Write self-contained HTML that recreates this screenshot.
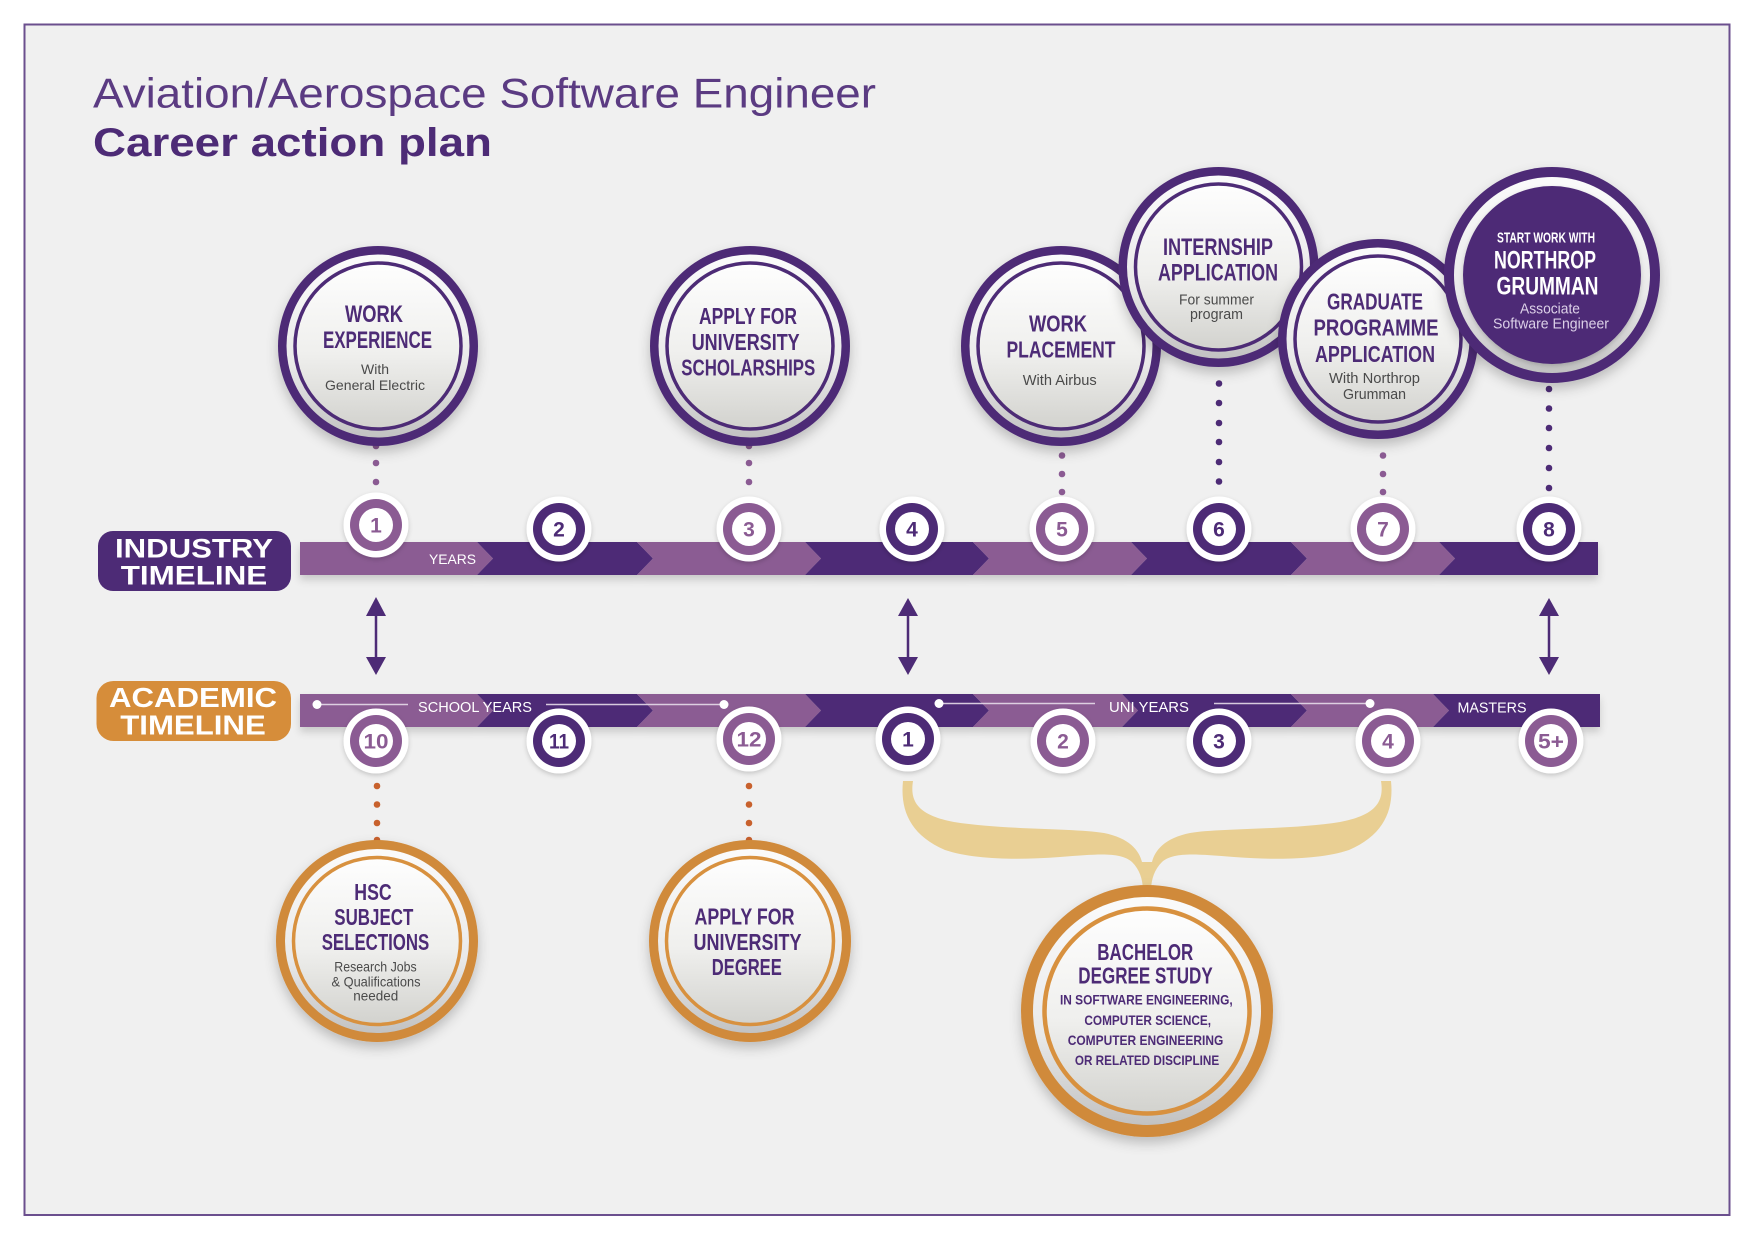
<!DOCTYPE html>
<html><head><meta charset="utf-8">
<style>
html,body{margin:0;padding:0;background:#ffffff;}
svg{display:block;}
.c{font-family:"Liberation Sans Narrow","Liberation Sans",sans-serif;font-weight:bold;fill:#4d2b76;text-anchor:middle;}
.cw{font-family:"Liberation Sans Narrow","Liberation Sans",sans-serif;font-weight:bold;fill:#ffffff;text-anchor:middle;}
.s{font-family:"Liberation Sans",sans-serif;fill:#4a4a4a;text-anchor:middle;}
.n{font-family:"Liberation Sans",sans-serif;font-weight:bold;text-anchor:middle;font-size:21px;}
.bt{font-family:"Liberation Sans",sans-serif;fill:#ffffff;text-anchor:middle;}
.lb{font-family:"Liberation Sans",sans-serif;font-weight:bold;fill:#ffffff;text-anchor:middle;}
</style></head>
<body>
<svg width="1753" height="1240" viewBox="0 0 1753 1240" xmlns="http://www.w3.org/2000/svg">
<defs>
  <linearGradient id="gin" x1="0" y1="0" x2="0" y2="1">
    <stop offset="0" stop-color="#fefefe"/>
    <stop offset="0.55" stop-color="#efefed"/>
    <stop offset="1" stop-color="#d2d2ce"/>
  </linearGradient>
  <linearGradient id="ggap" x1="0" y1="0" x2="0" y2="1">
    <stop offset="0" stop-color="#fbfbfb"/>
    <stop offset="0.6" stop-color="#e9e9e9"/>
    <stop offset="1" stop-color="#c2c2c2"/>
  </linearGradient>
  <filter id="sh" x="-25%" y="-25%" width="150%" height="160%">
    <feDropShadow dx="0" dy="6" stdDeviation="6" flood-color="#000" flood-opacity="0.22"/>
  </filter>
  <filter id="shs" x="-30%" y="-30%" width="160%" height="170%">
    <feDropShadow dx="0" dy="2" stdDeviation="2.5" flood-color="#000" flood-opacity="0.18"/>
  </filter>
  <filter id="shb" x="-5%" y="-40%" width="110%" height="200%">
    <feDropShadow dx="0" dy="5" stdDeviation="4" flood-color="#000" flood-opacity="0.16"/>
  </filter>
</defs>

<!-- frame -->
<rect x="0" y="0" width="1753" height="1240" fill="#ffffff"/>
<rect x="24.5" y="24.5" width="1705" height="1190.5" fill="#f0f0f0" stroke="#6b4f8e" stroke-width="2"/>

<!-- title -->
<text x="93" y="107.5" font-family="Liberation Sans, sans-serif" font-size="42" fill="#5b3b82" textLength="783" lengthAdjust="spacingAndGlyphs">Aviation/Aerospace Software Engineer</text>
<text x="93" y="156" font-family="Liberation Sans, sans-serif" font-size="40" font-weight="bold" fill="#4d2b76" textLength="399" lengthAdjust="spacingAndGlyphs">Career action plan</text>

<!-- industry bar -->
<g filter="url(#shb)">
  <polygon points="300,542 477,542 493,558.5 477,575 300,575" fill="#8b5b93"/>
  <polygon points="477,542 637,542 653,558.5 637,575 477,575 493,558.5" fill="#4d2b76"/>
  <polygon points="637,542 805,542 821,558.5 805,575 637,575 653,558.5" fill="#8b5b93"/>
  <polygon points="805,542 973,542 989,558.5 973,575 805,575 821,558.5" fill="#4d2b76"/>
  <polygon points="973,542 1131,542 1147,558.5 1131,575 973,575 989,558.5" fill="#8b5b93"/>
  <polygon points="1131,542 1291,542 1307,558.5 1291,575 1131,575 1147,558.5" fill="#4d2b76"/>
  <polygon points="1291,542 1439,542 1455,558.5 1439,575 1291,575 1307,558.5" fill="#8b5b93"/>
  <polygon points="1439,542 1598,542 1598,575 1439,575 1455,558.5" fill="#4d2b76"/>
</g>
<text class="bt" x="452.5" y="564" font-size="14" textLength="47" lengthAdjust="spacingAndGlyphs">YEARS</text>

<!-- academic bar -->
<g filter="url(#shb)">
  <polygon points="300,694 477,694 493,710.5 477,727 300,727" fill="#8b5b93"/>
  <polygon points="477,694 637,694 653,710.5 637,727 477,727 493,710.5" fill="#4d2b76"/>
  <polygon points="637,694 805,694 821,710.5 805,727 637,727 653,710.5" fill="#8b5b93"/>
  <polygon points="805,694 973,694 989,710.5 973,727 805,727 821,710.5" fill="#4d2b76"/>
  <polygon points="973,694 1122,694 1138,710.5 1122,727 973,727 989,710.5" fill="#8b5b93"/>
  <polygon points="1122,694 1291,694 1307,710.5 1291,727 1122,727 1138,710.5" fill="#4d2b76"/>
  <polygon points="1291,694 1433,694 1449,710.5 1433,727 1291,727 1307,710.5" fill="#8b5b93"/>
  <polygon points="1433,694 1600,694 1600,727 1433,727 1449,710.5" fill="#4d2b76"/>
</g>
<g stroke="#e6dcea" stroke-width="1.5" opacity="0.9">
  <line x1="317" y1="704.5" x2="408" y2="704.5"/>
  <line x1="546" y1="704.5" x2="724" y2="704.5"/>
  <line x1="939" y1="703.5" x2="1095" y2="703.5"/>
  <line x1="1214" y1="703.5" x2="1370" y2="703.5"/>
</g>
<g fill="#ffffff">
  <circle cx="317" cy="704.5" r="4.5"/>
  <circle cx="724" cy="704.5" r="4.5"/>
  <circle cx="939" cy="703.5" r="4.5"/>
  <circle cx="1370" cy="703.5" r="4.5"/>
</g>
<text class="bt" x="475" y="712" font-size="15" textLength="114" lengthAdjust="spacingAndGlyphs">SCHOOL YEARS</text>
<text class="bt" x="1149" y="712" font-size="15" textLength="80" lengthAdjust="spacingAndGlyphs">UNI YEARS</text>
<text class="bt" x="1492" y="712.5" font-size="15" textLength="69" lengthAdjust="spacingAndGlyphs">MASTERS</text>

<!-- timeline labels -->
<rect x="98" y="531" width="193" height="60" rx="15" fill="#4d2b76"/>
<text class="lb" x="194" y="557.5" font-size="27" textLength="158" lengthAdjust="spacingAndGlyphs">INDUSTRY</text>
<text class="lb" x="194" y="584.4" font-size="27" textLength="146.5" lengthAdjust="spacingAndGlyphs">TIMELINE</text>
<rect x="96.5" y="681" width="194.5" height="60" rx="17" fill="#d68d3a"/>
<text class="lb" x="193" y="707" font-size="28" textLength="168" lengthAdjust="spacingAndGlyphs">ACADEMIC</text>
<text class="lb" x="193" y="734.5" font-size="28" textLength="145.5" lengthAdjust="spacingAndGlyphs">TIMELINE</text>

<!-- dotted connectors -->
<g fill="#8b5b93">
  <circle cx="376" cy="446" r="3.3"/><circle cx="376" cy="463" r="3.3"/><circle cx="376" cy="482" r="3.3"/>
  <circle cx="749" cy="446" r="3.3"/><circle cx="749" cy="463" r="3.3"/><circle cx="749" cy="482" r="3.3"/>
  <circle cx="1062" cy="455.5" r="3.3"/><circle cx="1062" cy="474" r="3.3"/><circle cx="1062" cy="492" r="3.3"/>
  <circle cx="1383" cy="455.5" r="3.3"/><circle cx="1383" cy="474" r="3.3"/><circle cx="1383" cy="492" r="3.3"/>
</g>
<g fill="#4d2b76">
  <circle cx="1219" cy="383.5" r="3.3"/><circle cx="1219" cy="403" r="3.3"/><circle cx="1219" cy="423" r="3.3"/><circle cx="1219" cy="442" r="3.3"/><circle cx="1219" cy="462" r="3.3"/><circle cx="1219" cy="481.5" r="3.3"/>
  <circle cx="1549" cy="389" r="3.3"/><circle cx="1549" cy="408.5" r="3.3"/><circle cx="1549" cy="428" r="3.3"/><circle cx="1549" cy="448" r="3.3"/><circle cx="1549" cy="468" r="3.3"/><circle cx="1549" cy="488" r="3.3"/>
</g>
<g fill="#c8612d">
  <circle cx="377" cy="786" r="3.3"/><circle cx="377" cy="804.5" r="3.3"/><circle cx="377" cy="823" r="3.3"/><circle cx="377" cy="840" r="3.3"/>
  <circle cx="749" cy="786" r="3.3"/><circle cx="749" cy="804.5" r="3.3"/><circle cx="749" cy="823" r="3.3"/><circle cx="749" cy="840" r="3.3"/>
</g>

<!-- arrows -->
<g fill="#4d2b76" stroke="#4d2b76">
  <line x1="376" y1="612" x2="376" y2="660" stroke-width="2.5"/>
  <polygon points="376,597 386,616 366,616" stroke="none"/>
  <polygon points="376,675 386,657 366,657" stroke="none"/>
  <line x1="908" y1="612" x2="908" y2="660" stroke-width="2.5"/>
  <polygon points="908,598 918,616 898,616" stroke="none"/>
  <polygon points="908,675 918,657 898,657" stroke="none"/>
  <line x1="1549" y1="612" x2="1549" y2="660" stroke-width="2.5"/>
  <polygon points="1549,598 1559,616 1539,616" stroke="none"/>
  <polygon points="1549,675 1559,657 1539,657" stroke="none"/>
</g>

<!-- brace -->
<path d="M 903 781 C 900 810, 910 835, 945 850 C 975 860, 1020 860, 1060 857 C 1100 854, 1120 852, 1132 862 C 1140 870, 1143 880, 1143 892 L 1151 892 C 1151 880, 1154 870, 1162 862 C 1174 852, 1194 854, 1234 857 C 1274 860, 1319 860, 1349 850 C 1384 835, 1394 810, 1391 781 L 1381 781 C 1384 800, 1378 815, 1340 822 C 1290 830, 1220 828, 1190 833 C 1165 838, 1155 850, 1152 862 L 1142 862 C 1139 850, 1129 838, 1104 833 C 1074 828, 1004 830, 954 822 C 916 815, 910 800, 913 781 Z" fill="#e9cf93"/>

<!-- ===== Top purple circles ===== -->
<!-- Work experience -->
<g filter="url(#sh)"><circle cx="378" cy="346" r="100" fill="#4d2b76"/></g>
<circle cx="378" cy="346" r="91.5" fill="url(#ggap)"/>
<circle cx="378" cy="346" r="83" fill="url(#gin)" stroke="#4d2b76" stroke-width="3.5"/>
<text class="c" x="374" y="322" font-size="24" textLength="58" lengthAdjust="spacingAndGlyphs">WORK</text>
<text class="c" x="377.5" y="348" font-size="24" textLength="109" lengthAdjust="spacingAndGlyphs">EXPERIENCE</text>
<text class="s" x="375" y="374" font-size="14" textLength="28" lengthAdjust="spacingAndGlyphs">With</text>
<text class="s" x="375" y="390" font-size="14" textLength="100" lengthAdjust="spacingAndGlyphs">General Electric</text>

<!-- Scholarships -->
<g filter="url(#sh)"><circle cx="750" cy="346" r="100" fill="#4d2b76"/></g>
<circle cx="750" cy="346" r="91.5" fill="url(#ggap)"/>
<circle cx="750" cy="346" r="83" fill="url(#gin)" stroke="#4d2b76" stroke-width="3.5"/>
<text class="c" x="748" y="324" font-size="23" textLength="98" lengthAdjust="spacingAndGlyphs">APPLY FOR</text>
<text class="c" x="745.7" y="350" font-size="23" textLength="108" lengthAdjust="spacingAndGlyphs">UNIVERSITY</text>
<text class="c" x="748.3" y="375.6" font-size="23" textLength="134" lengthAdjust="spacingAndGlyphs">SCHOLARSHIPS</text>

<!-- Work placement -->
<g filter="url(#sh)"><circle cx="1061" cy="346" r="100" fill="#4d2b76"/></g>
<circle cx="1061" cy="346" r="91.5" fill="url(#ggap)"/>
<circle cx="1061" cy="346" r="83" fill="url(#gin)" stroke="#4d2b76" stroke-width="3.5"/>
<text class="c" x="1058" y="331.7" font-size="23" textLength="58" lengthAdjust="spacingAndGlyphs">WORK</text>
<text class="c" x="1061" y="357.7" font-size="23" textLength="109" lengthAdjust="spacingAndGlyphs">PLACEMENT</text>
<text class="s" x="1059.7" y="385" font-size="15" textLength="74" lengthAdjust="spacingAndGlyphs">With Airbus</text>

<!-- Internship -->
<g filter="url(#sh)"><circle cx="1218.5" cy="267" r="100" fill="#4d2b76"/></g>
<circle cx="1218.5" cy="267" r="91.5" fill="url(#ggap)"/>
<circle cx="1218.5" cy="267" r="83" fill="url(#gin)" stroke="#4d2b76" stroke-width="3.5"/>
<text class="c" x="1218" y="255" font-size="24" textLength="110" lengthAdjust="spacingAndGlyphs">INTERNSHIP</text>
<text class="c" x="1218" y="280.7" font-size="24" textLength="120" lengthAdjust="spacingAndGlyphs">APPLICATION</text>
<text class="s" x="1216.5" y="304.3" font-size="14.5" textLength="75" lengthAdjust="spacingAndGlyphs">For summer</text>
<text class="s" x="1216.5" y="319" font-size="14.5" textLength="53" lengthAdjust="spacingAndGlyphs">program</text>

<!-- Graduate -->
<g filter="url(#sh)"><circle cx="1378" cy="339" r="100" fill="#4d2b76"/></g>
<circle cx="1378" cy="339" r="91.5" fill="url(#ggap)"/>
<circle cx="1378" cy="339" r="83" fill="url(#gin)" stroke="#4d2b76" stroke-width="3.5"/>
<text class="c" x="1375" y="309.3" font-size="23" textLength="96" lengthAdjust="spacingAndGlyphs">GRADUATE</text>
<text class="c" x="1376" y="335.7" font-size="23" textLength="125" lengthAdjust="spacingAndGlyphs">PROGRAMME</text>
<text class="c" x="1375" y="362" font-size="23" textLength="120" lengthAdjust="spacingAndGlyphs">APPLICATION</text>
<text class="s" x="1374.5" y="383" font-size="15" textLength="91" lengthAdjust="spacingAndGlyphs">With Northrop</text>
<text class="s" x="1374.5" y="399" font-size="15" textLength="63" lengthAdjust="spacingAndGlyphs">Grumman</text>

<!-- Northrop -->
<g filter="url(#sh)"><circle cx="1552" cy="275" r="108" fill="#4d2b76"/></g>
<circle cx="1552" cy="275" r="98" fill="url(#ggap)"/>
<g filter="url(#shs)"><circle cx="1552" cy="275" r="89" fill="#4d2b76"/></g>
<text class="cw" x="1546" y="242.3" font-size="15" textLength="98" lengthAdjust="spacingAndGlyphs">START WORK WITH</text>
<text class="cw" x="1545" y="268.3" font-size="25" textLength="102" lengthAdjust="spacingAndGlyphs">NORTHROP</text>
<text class="cw" x="1547.5" y="294.3" font-size="25" textLength="102" lengthAdjust="spacingAndGlyphs">GRUMMAN</text>
<text x="1550" y="313.3" font-family="Liberation Sans, sans-serif" font-size="15" fill="#dcd0e8" text-anchor="middle" textLength="60" lengthAdjust="spacingAndGlyphs">Associate</text>
<text x="1551" y="328.3" font-family="Liberation Sans, sans-serif" font-size="15" fill="#dcd0e8" text-anchor="middle" textLength="116" lengthAdjust="spacingAndGlyphs">Software Engineer</text>

<!-- ===== Bottom orange circles ===== -->
<!-- HSC -->
<g filter="url(#sh)"><circle cx="377" cy="941" r="101" fill="#d08a3b"/></g>
<circle cx="377" cy="941" r="92" fill="url(#ggap)"/>
<circle cx="377" cy="941" r="83.5" fill="url(#gin)" stroke="#d8913f" stroke-width="3.5"/>
<text class="c" x="373" y="900" font-size="23" textLength="37.4" lengthAdjust="spacingAndGlyphs">HSC</text>
<text class="c" x="373.8" y="925" font-size="23" textLength="79" lengthAdjust="spacingAndGlyphs">SUBJECT</text>
<text class="c" x="375.5" y="950" font-size="23" textLength="107.6" lengthAdjust="spacingAndGlyphs">SELECTIONS</text>
<text class="s" x="375.5" y="971.7" font-size="14" textLength="82.4" lengthAdjust="spacingAndGlyphs">Research Jobs</text>
<text class="s" x="376" y="986.7" font-size="14" textLength="89" lengthAdjust="spacingAndGlyphs">&amp; Qualifications</text>
<text class="s" x="375.8" y="1000.7" font-size="14" textLength="45" lengthAdjust="spacingAndGlyphs">needed</text>

<!-- Apply for university degree -->
<g filter="url(#sh)"><circle cx="750" cy="941" r="101" fill="#d08a3b"/></g>
<circle cx="750" cy="941" r="92" fill="url(#ggap)"/>
<circle cx="750" cy="941" r="83.5" fill="url(#gin)" stroke="#d8913f" stroke-width="3.5"/>
<text class="c" x="744.5" y="924.5" font-size="23" textLength="100" lengthAdjust="spacingAndGlyphs">APPLY FOR</text>
<text class="c" x="747.5" y="950" font-size="23" textLength="108" lengthAdjust="spacingAndGlyphs">UNIVERSITY</text>
<text class="c" x="746.8" y="975" font-size="23" textLength="70" lengthAdjust="spacingAndGlyphs">DEGREE</text>

<!-- Bachelor -->
<g filter="url(#sh)"><circle cx="1147" cy="1011" r="126" fill="#d08a3b"/></g>
<circle cx="1147" cy="1011" r="114" fill="url(#ggap)"/>
<circle cx="1147" cy="1011" r="102.5" fill="url(#gin)" stroke="#d8913f" stroke-width="4.5"/>
<text class="c" x="1145.3" y="960" font-size="23" textLength="96" lengthAdjust="spacingAndGlyphs">BACHELOR</text>
<text class="c" x="1145.5" y="983.3" font-size="23" textLength="134.4" lengthAdjust="spacingAndGlyphs">DEGREE STUDY</text>
<text class="c" x="1146.3" y="1004.3" font-size="14" textLength="172.7" lengthAdjust="spacingAndGlyphs">IN SOFTWARE ENGINEERING,</text>
<text class="c" x="1147.7" y="1025" font-size="14" textLength="126.7" lengthAdjust="spacingAndGlyphs">COMPUTER SCIENCE,</text>
<text class="c" x="1145.5" y="1045" font-size="14" textLength="155.6" lengthAdjust="spacingAndGlyphs">COMPUTER ENGINEERING</text>
<text class="c" x="1147" y="1065" font-size="14" textLength="144.3" lengthAdjust="spacingAndGlyphs">OR RELATED DISCIPLINE</text>

<!-- ===== Number circles: industry ===== -->
<g>
  <g filter="url(#shs)"><circle cx="376" cy="525" r="32.5" fill="#fff"/></g><circle cx="376" cy="525" r="26" fill="#8b5b93"/><circle cx="376" cy="525" r="17" fill="#fff"/>
  <text class="n" x="376" y="532.5" fill="#8b5b93">1</text>

  <g filter="url(#shs)"><circle cx="559" cy="529" r="32.5" fill="#fff"/></g><circle cx="559" cy="529" r="26" fill="#4d2b76"/><circle cx="559" cy="529" r="17" fill="#fff"/>
  <text class="n" x="559" y="536.5" fill="#4d2b76">2</text>

  <g filter="url(#shs)"><circle cx="749" cy="529" r="32.5" fill="#fff"/></g><circle cx="749" cy="529" r="26" fill="#8b5b93"/><circle cx="749" cy="529" r="17" fill="#fff"/>
  <text class="n" x="749" y="536.5" fill="#8b5b93">3</text>

  <g filter="url(#shs)"><circle cx="912" cy="529" r="32.5" fill="#fff"/></g><circle cx="912" cy="529" r="26" fill="#4d2b76"/><circle cx="912" cy="529" r="17" fill="#fff"/>
  <text class="n" x="912" y="536.5" fill="#4d2b76">4</text>

  <g filter="url(#shs)"><circle cx="1062" cy="529" r="32.5" fill="#fff"/></g><circle cx="1062" cy="529" r="26" fill="#8b5b93"/><circle cx="1062" cy="529" r="17" fill="#fff"/>
  <text class="n" x="1062" y="536.5" fill="#8b5b93">5</text>

  <g filter="url(#shs)"><circle cx="1219" cy="529" r="32.5" fill="#fff"/></g><circle cx="1219" cy="529" r="26" fill="#4d2b76"/><circle cx="1219" cy="529" r="17" fill="#fff"/>
  <text class="n" x="1219" y="536.5" fill="#4d2b76">6</text>

  <g filter="url(#shs)"><circle cx="1383" cy="529" r="32.5" fill="#fff"/></g><circle cx="1383" cy="529" r="26" fill="#8b5b93"/><circle cx="1383" cy="529" r="17" fill="#fff"/>
  <text class="n" x="1383" y="536.5" fill="#8b5b93">7</text>

  <g filter="url(#shs)"><circle cx="1549" cy="529" r="32.5" fill="#fff"/></g><circle cx="1549" cy="529" r="26" fill="#4d2b76"/><circle cx="1549" cy="529" r="17" fill="#fff"/>
  <text class="n" x="1549" y="536.5" fill="#4d2b76">8</text>
</g>

<!-- ===== Number circles: academic ===== -->
<g>
  <g filter="url(#shs)"><circle cx="376" cy="741" r="32.5" fill="#fff"/></g><circle cx="376" cy="741" r="26" fill="#8b5b93"/><circle cx="376" cy="741" r="17" fill="#fff"/>
  <text class="n" x="376" y="748.5" fill="#8b5b93" textLength="25" lengthAdjust="spacingAndGlyphs">10</text>

  <g filter="url(#shs)"><circle cx="559" cy="741" r="32.5" fill="#fff"/></g><circle cx="559" cy="741" r="26" fill="#4d2b76"/><circle cx="559" cy="741" r="17" fill="#fff"/>
  <text class="n" x="559" y="748.5" fill="#4d2b76" textLength="20" lengthAdjust="spacingAndGlyphs">11</text>

  <g filter="url(#shs)"><circle cx="749" cy="739" r="32.5" fill="#fff"/></g><circle cx="749" cy="739" r="26" fill="#8b5b93"/><circle cx="749" cy="739" r="17" fill="#fff"/>
  <text class="n" x="749" y="746.5" fill="#8b5b93" textLength="25" lengthAdjust="spacingAndGlyphs">12</text>

  <g filter="url(#shs)"><circle cx="908" cy="739" r="32.5" fill="#fff"/></g><circle cx="908" cy="739" r="26" fill="#4d2b76"/><circle cx="908" cy="739" r="17" fill="#fff"/>
  <text class="n" x="908" y="746.5" fill="#4d2b76">1</text>

  <g filter="url(#shs)"><circle cx="1063" cy="741" r="32.5" fill="#fff"/></g><circle cx="1063" cy="741" r="26" fill="#8b5b93"/><circle cx="1063" cy="741" r="17" fill="#fff"/>
  <text class="n" x="1063" y="748.5" fill="#8b5b93">2</text>

  <g filter="url(#shs)"><circle cx="1219" cy="741" r="32.5" fill="#fff"/></g><circle cx="1219" cy="741" r="26" fill="#4d2b76"/><circle cx="1219" cy="741" r="17" fill="#fff"/>
  <text class="n" x="1219" y="748.5" fill="#4d2b76">3</text>

  <g filter="url(#shs)"><circle cx="1388" cy="741" r="32.5" fill="#fff"/></g><circle cx="1388" cy="741" r="26" fill="#8b5b93"/><circle cx="1388" cy="741" r="17" fill="#fff"/>
  <text class="n" x="1388" y="748.5" fill="#8b5b93">4</text>

  <g filter="url(#shs)"><circle cx="1551" cy="741" r="32.5" fill="#fff"/></g><circle cx="1551" cy="741" r="26" fill="#8b5b93"/><circle cx="1551" cy="741" r="17" fill="#fff"/>
  <text class="n" x="1551" y="748.5" fill="#8b5b93" textLength="26" lengthAdjust="spacingAndGlyphs">5+</text>
</g>

</svg>
</body></html>
